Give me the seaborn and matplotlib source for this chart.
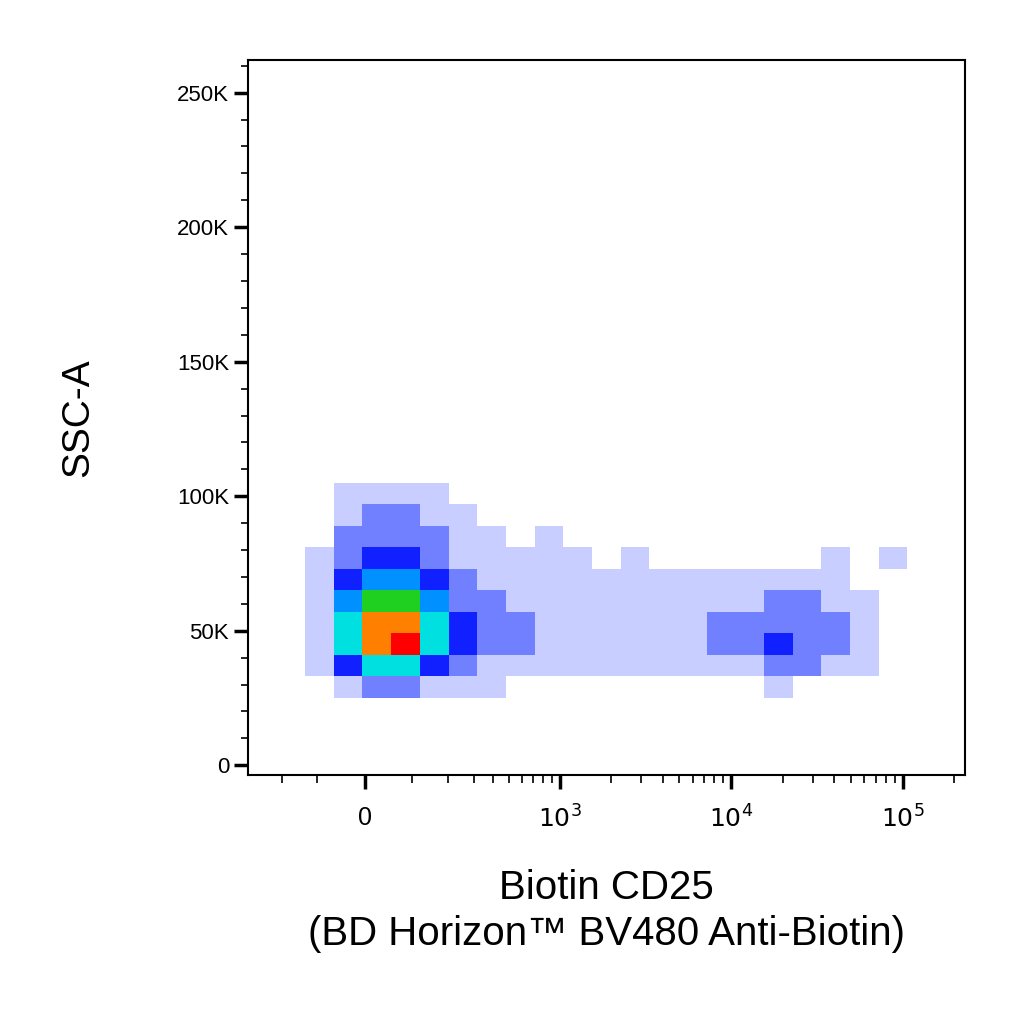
import numpy as np
import matplotlib
matplotlib.use("Agg")
import matplotlib.pyplot as plt
from matplotlib.colors import ListedColormap, BoundaryNorm
import seaborn as sns

# density grid (levels 0-9), rows top -> bottom
x_edges = np.arange(80, 1001, 40)          # display channel units
ssc_edges = np.arange(25000, 105001, 8000)[::-1]
density = [
    [0,1,1,1,1,0,0,0,0,0,0,0,0,0,0,0,0,0,0,0,0,0,0],
    [0,1,2,2,1,1,0,0,0,0,0,0,0,0,0,0,0,0,0,0,0,0,0],
    [0,2,2,2,2,1,1,0,1,0,0,0,0,0,0,0,0,0,0,0,0,0,0],
    [1,2,3,3,2,1,1,1,1,1,0,1,0,0,0,0,0,0,1,0,1,0,0],
    [1,3,4,4,3,2,1,1,1,1,1,1,1,1,1,1,1,1,1,0,0,0,0],
    [1,4,6,6,4,2,2,1,1,1,1,1,1,1,1,1,2,2,1,1,0,0,0],
    [1,5,8,8,5,3,2,2,1,1,1,1,1,1,2,2,2,2,2,1,0,0,0],
    [1,5,8,9,5,3,2,2,1,1,1,1,1,1,2,2,3,2,2,1,0,0,0],
    [1,3,5,5,3,2,1,1,1,1,1,1,1,1,1,1,2,2,1,1,0,0,0],
    [0,1,2,2,1,1,1,0,0,0,0,0,0,0,0,0,1,0,0,0,0,0,0],
]
level_colors = ["#ffffff", "#c8ceff", "#7080ff", "#1020ff", "#0090ff",
                "#00e0e0", "#20d020", "#f0f000", "#ff8000", "#ff0000"]

# biexponential-like display transform for the x axis
ZERO, SCALE, WIDTH = 163.0, 104.0, 147.0
def to_display(v):
    return ZERO + SCALE * np.arcsinh(np.asarray(v, dtype=float) / WIDTH)

major_vals = [0, 1e3, 1e4, 1e5]
major_labels = ["0", r"$10^3$", r"$10^4$", r"$10^5$"]
minor_vals = ([-200, -100] + list(range(100, 1000, 100)) + list(range(2000, 10000, 1000))
              + list(range(20000, 100000, 10000)) + [200000])

sns.set_style("ticks")
plt.rcParams["font.family"] = ["Liberation Sans", "DejaVu Sans"]
plt.rcParams["text.color"] = "black"
plt.rcParams["axes.labelcolor"] = "black"
plt.rcParams["xtick.color"] = "black"
plt.rcParams["ytick.color"] = "black"

fig = plt.figure(figsize=(10.24, 10.24), dpi=100)
ax = fig.add_axes([0.242, 0.243, 0.700, 0.698])

cmap = ListedColormap(level_colors)
norm = BoundaryNorm(np.arange(-0.5, 10), cmap.N)
grid = np.array(density)[::-1]
ax.pcolormesh(x_edges, ssc_edges[::-1], grid, cmap=cmap, norm=norm, shading="flat")

ax.set_xlim(0, 1000)
ax.set_ylim(-3700, 262000)

ax.set_xticks(to_display(major_vals))
ax.set_xticklabels(major_labels, fontsize=18)
ax.set_xticks(to_display([v for v in minor_vals if to_display(v) < 1000]), minor=True)
ax.tick_params(axis="x", which="major", length=10, width=2.5, direction="out", pad=12)
ax.tick_params(axis="x", which="minor", length=6, width=1.2, direction="out")

ax.set_yticks(np.arange(0, 250001, 50000))
ax.set_yticklabels(["0", "50K", "100K", "150K", "200K", "250K"], fontsize=16)
ax.set_yticks(np.arange(0, 260001, 10000), minor=True)
ax.tick_params(axis="y", which="major", length=10, width=2.5, direction="out")
ax.tick_params(axis="y", which="minor", length=5, width=1.2, direction="out")

for s in ax.spines.values():
    s.set_color("black")
    s.set_linewidth(1.5)

ax.set_xlabel("Biotin CD25\n(BD Horizon™ BV480 Anti-Biotin)", fontsize=29,
              labelpad=26, linespacing=1.25)
ax.set_ylabel("SSC-A", fontsize=28, labelpad=58)

fig.savefig("out.png", dpi=100, facecolor="white")
